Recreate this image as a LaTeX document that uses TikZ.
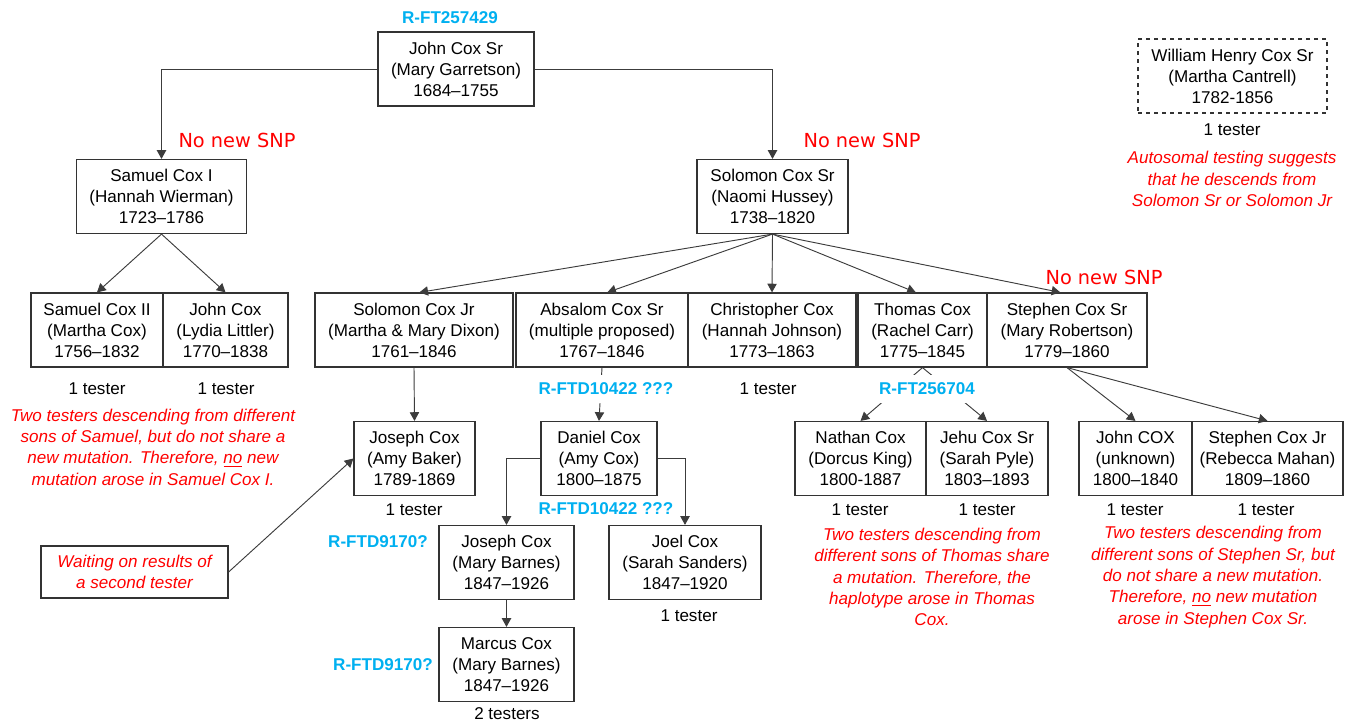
\documentclass[tikz,border=0pt]{standalone}
\usepackage{fontspec}
\setmainfont{Liberation Sans}
\newfontfamily\snpfont{DejaVu Sans}
\usetikzlibrary{arrows.meta}
\definecolor{snpblue}{RGB}{0,176,240}
\definecolor{linegray}{RGB}{60,60,60}

\begin{document}
\begin{tikzpicture}[x=0.75pt,y=-0.75pt]
\tikzstyle{every node}+=[inner sep=0pt]
\tikzstyle{person}=[draw=black!80, line width=0.9pt, minimum height=55.5pt, align=center, font=\fontsize{12.8}{15.75}\selectfont]
\tikzstyle{tester}=[font=\fontsize{12.8}{15}\selectfont]
\tikzstyle{note}=[text=red, align=center, font=\fontsize{12.8}{16}\selectfont\itshape]
\tikzstyle{snp}=[text=snpblue, font=\fontsize{12.8}{15}\selectfont\bfseries]
\tikzstyle{snpcover}=[snp, fill=white, inner xsep=11pt, inner ysep=6pt]
\tikzstyle{nonew}=[text=red, font=\snpfont\fontsize{14.5}{16}\selectfont]
\tikzstyle{link}=[draw=linegray, line width=0.7pt, -{Triangle[length=6.5pt,width=7pt]}]
\useasboundingbox (0,0) rectangle (1346,721);

\node[person, minimum width=117pt] (jcsr) at (456,69) {John Cox Sr\\(Mary Garretson)\\1684--1755};
\node[person, minimum width=127.5pt] (samI) at (161.5,196.5) {Samuel Cox I\\(Hannah Wierman)\\1723--1786};
\node[person, minimum width=113.25pt] (solsr) at (772.5,196.5) {Solomon Cox Sr\\(Naomi Hussey)\\1738--1820};
\node[person, minimum width=141.75pt, dashed] (william) at (1232.5,76) {William Henry Cox Sr\\(Martha Cantrell)\\1782-1856};

\node[person, minimum width=99pt] (samII) at (97,330) {Samuel Cox II\\(Martha Cox)\\1756--1832};
\node[person, minimum width=93.75pt] (johnL) at (225.5,330) {John Cox\\(Lydia Littler)\\1770--1838};
\node[person, minimum width=148.5pt] (soljr) at (414,330) {Solomon Cox Jr\\(Martha \& Mary Dixon)\\1761--1846};
\node[person, minimum width=129pt] (absalom) at (602,330) {Absalom Cox Sr\\(multiple proposed)\\1767--1846};
\node[person, minimum width=126pt] (chris) at (772,330) {Christopher Cox\\(Hannah Johnson)\\1773--1863};
\node[person, minimum width=96.75pt] (thomas) at (922.5,330) {Thomas Cox\\(Rachel Carr)\\1775--1845};
\node[person, minimum width=120pt] (stesr) at (1067,330) {Stephen Cox Sr\\(Mary Robertson)\\1779--1860};

\node[person, minimum width=90.75pt] (josAB) at (414.5,458.5) {Joseph Cox\\(Amy Baker)\\1789-1869};
\node[person, minimum width=87pt] (daniel) at (599,458.5) {Daniel Cox\\(Amy Cox)\\1800--1875};
\node[person, minimum width=98.25pt] (nathan) at (860.5,458.5) {Nathan Cox\\(Dorcus King)\\1800-1887};
\node[person, minimum width=91.5pt] (jehu) at (987,458.5) {Jehu Cox Sr\\(Sarah Pyle)\\1803--1893};
\node[person, minimum width=84.75pt] (johnC) at (1135.5,458.5) {John COX\\(unknown)\\1800--1840};
\node[person, minimum width=113.25pt] (stejr) at (1267.5,458.5) {Stephen Cox Jr\\(Rebecca Mahan)\\1809--1860};

\node[person, minimum width=101.25pt] (josMB) at (506.5,562.5) {Joseph Cox\\(Mary Barnes)\\1847--1926};
\node[person, minimum width=114pt] (joel) at (685,562.5) {Joel Cox\\(Sarah Sanders)\\1847--1920};
\node[person, minimum width=101.25pt] (marcus) at (506.5,664.5) {Marcus Cox\\(Mary Barnes)\\1847--1926};

\node[person, minimum width=140.25pt, minimum height=39pt, text=red, font=\fontsize{12.8}{15.75}\selectfont\itshape] (waiting) at (134.5,572) {Waiting on results of\\a second tester};

\draw[link] (jcsr.west) -| (samI.north);
\draw[link] (jcsr.east) -| (solsr.north);
\draw[link] (samI.south) -- (samII.north);
\draw[link] (samI.south) -- (johnL.north);
\draw[link] (solsr.south) -- ([xshift=4pt]soljr.north);
\draw[link] (solsr.south) -- ([xshift=4pt]absalom.north);
\draw[link] (solsr.south) -- (chris.north);
\draw[link] (solsr.south) -- ([xshift=-5pt]thomas.north);
\draw[link] (solsr.south) -- ([xshift=-5pt]stesr.north);
\draw[link] (soljr.south) -- (josAB.north);
\draw[link] (absalom.south) -- (daniel.north);
\draw[link] (daniel.west) -| (josMB.north);
\draw[link] (daniel.east) -| (joel.north);
\draw[link] (josMB.south) -- (marcus.north);
\draw[link] (thomas.south) -- (nathan.north);
\draw[link] (thomas.south) -- (jehu.north);
\draw[link] (stesr.south) -- (johnC.north);
\draw[link] (stesr.south) -- (stejr.north);
\draw[link] (waiting.east) -- (josAB.west);

\node[snp] (snpTop) at (450,18) {R-FT257429};
\node[snpcover] (snpAbs) at (606,389) {R-FTD10422 ???};
\node[snp] (snpDan) at (606,509) {R-FTD10422 ???};
\node[snp] (snpJos) at (378,542) {R-FTD9170?};
\node[snp] (snpMar) at (383,665) {R-FTD9170?};
\node[snpcover] (snpTho) at (927,389) {R-FT256704};

\node[nonew] (nonewSam) at (237,140) {No new SNP};
\node[nonew] (nonewSol) at (862,140) {No new SNP};
\node[nonew] (nonewSte) at (1104,277) {No new SNP};

\node[tester] (tSamII) at (97,389) {1 tester};
\node[tester] (tJohnL) at (226,389) {1 tester};
\node[tester] (tChris) at (768,389) {1 tester};
\node[tester] (tJosAB) at (414,510) {1 tester};
\node[tester] (tNathan) at (860,510) {1 tester};
\node[tester] (tJehu) at (987,510) {1 tester};
\node[tester] (tJohnC) at (1135,510) {1 tester};
\node[tester] (tSteJr) at (1266,510) {1 tester};
\node[tester] (tJoel) at (689,616) {1 tester};
\node[tester] (tMarcus) at (507,714) {2 testers};
\node[tester] (tWilliam) at (1232,130) {1 tester};

\node[note] (noteSam) at (153,447) {Two testers descending from different\\sons of Samuel, but do not share a\\new mutation. Therefore, \underline{no} new\\mutation arose in Samuel Cox I.};
\node[note] (noteTho) at (932,577) {Two testers descending from\\different sons of Thomas share\\a mutation. Therefore, the\\haplotype arose in Thomas\\Cox.};
\node[note] (noteSte) at (1213,577) {Two testers descending from\\different sons of Stephen Sr, but\\do not share a new mutation.\\Therefore, \underline{no} new mutation\\arose in Stephen Cox Sr.};
\node[note] (noteWil) at (1232,179) {Autosomal testing suggests\\that he descends from\\Solomon Sr or Solomon Jr};
\end{tikzpicture}
\end{document}
